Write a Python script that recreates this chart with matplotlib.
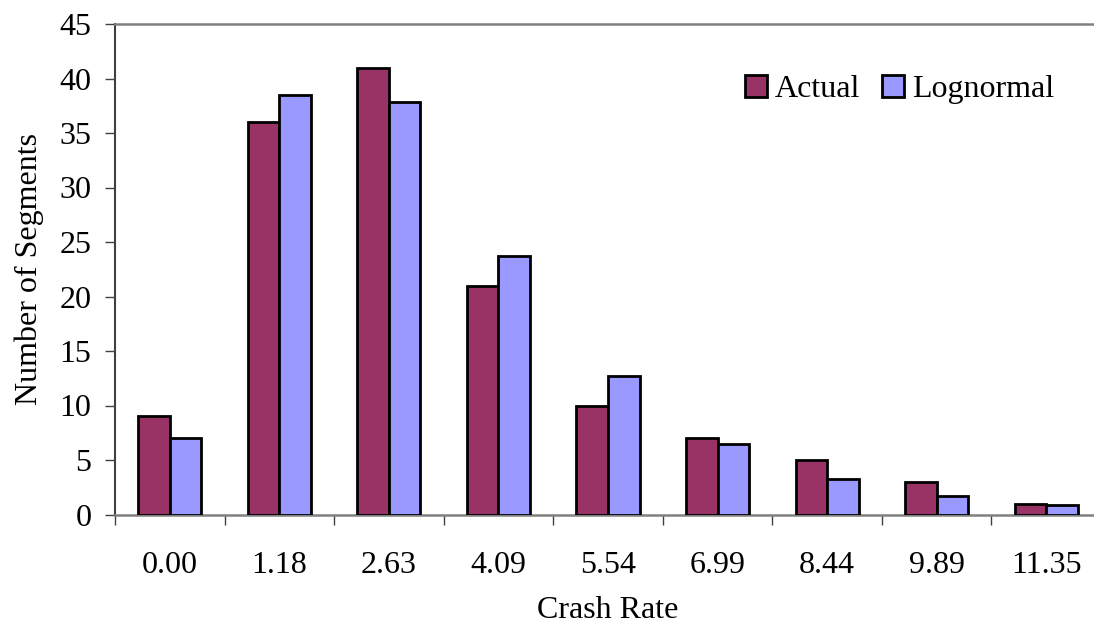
import matplotlib
matplotlib.use("Agg")
import matplotlib.pyplot as plt
import numpy as np

categories = ["0.00", "1.18", "2.63", "4.09", "5.54", "6.99", "8.44", "9.89", "11.35"]
actual = [9, 36, 41, 21, 10, 7, 5, 3, 1]
lognormal = [7.0, 38.5, 37.8, 23.7, 12.7, 6.5, 3.3, 1.7, 0.9]

plt.rcParams['font.family'] = ['Liberation Serif', 'DejaVu Serif']

W, H = 1094, 628
fig = plt.figure(figsize=(W / 100, H / 100), dpi=100)
left, right, top, bottom = 115, 1101, 24, 514.5
ax = fig.add_axes([left / W, (H - bottom) / H, (right - left) / W, (bottom - top) / H])

x = np.arange(len(categories))
w = 0.288
ax.bar(x - w / 2, actual, w, color="#993366", edgecolor="black", linewidth=2.0, label="Actual", zorder=3)
ax.bar(x + w / 2, lognormal, w, color="#9999FF", edgecolor="black", linewidth=2.0, label="Lognormal", zorder=3)

ax.set_xlim(-0.5, len(categories) - 0.5)
ax.set_ylim(0, 45)
ax.set_yticks(np.arange(0, 46, 5))
ax.tick_params(axis='y', direction='out', length=7, width=1, color='#404040', labelsize=23, pad=10)

ax.set_xticks(np.arange(len(categories) + 1) - 0.5)
ax.set_xticklabels([])
ax.tick_params(axis='x', which='major', direction='out', length=7.5, width=1, color='#404040')
ax.set_xticks(x, categories, minor=True)
ax.tick_params(axis='x', which='minor', length=0, labelsize=23, pad=26)

for s in ['top', 'bottom']:
    ax.spines[s].set_color('#808080')
    ax.spines[s].set_linewidth(1.8)
ax.spines['left'].set_color('#404040')
ax.spines['left'].set_linewidth(1.5)
ax.spines['right'].set_visible(False)

ax.set_xlabel("Crash Rate", fontsize=23, labelpad=12)
ax.set_ylabel("Number of Segments", fontsize=23, labelpad=11)

leg = ax.legend(loc='upper left', bbox_to_anchor=(0.639, 0.897), ncol=2, frameon=False,
                fontsize=23, handlelength=0.68, handleheight=0.7, handletextpad=0.25,
                columnspacing=0.7, borderaxespad=0, borderpad=0)

fig.savefig("out.png", dpi=100)
